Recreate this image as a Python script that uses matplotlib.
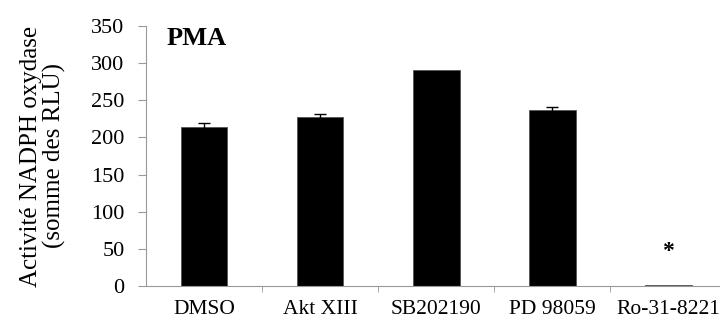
import matplotlib
matplotlib.use('Agg')
import matplotlib.pyplot as plt
import numpy as np

categories = ['DMSO', 'Akt XIII', 'SB202190', 'PD 98059', 'Ro-31-8221']
values = [214, 228, 291, 237, 1.5]
errors = [6, 3, 0, 4, 0]
marques = ['', '', '', '', '*']

plt.rcParams['font.family'] = ['Liberation Serif', 'DejaVu Serif']

fig = plt.figure(figsize=(7.2, 3.2), dpi=100)
ax = fig.add_axes([0.203, 0.106, 0.806, 0.813])

x = np.arange(len(categories))
ax.bar(x, values, width=0.4, color='black', edgecolor='#555555', linewidth=0.6)

# barres d'erreur seulement où il y en a
avec_err = np.array(errors) > 0
ax.errorbar(x[avec_err], np.array(values)[avec_err], yerr=np.array(errors)[avec_err],
            fmt='none', ecolor='black', elinewidth=1, capsize=4, capthick=1)

for xi, v, m in zip(x, values, marques):
    if m:
        ax.text(xi, v + 45, m, ha='center', va='center', fontsize=17, fontweight='bold')

ax.set_xlim(-0.5, 4.5)
ax.set_ylim(0, 350)
ax.set_yticks(range(0, 351, 50))
ax.set_xticks(x)
ax.set_xticklabels(categories)
ax.set_xticks(x[:-1] + 0.5, minor=True)
ax.tick_params(axis='x', which='major', length=0, pad=10, labelsize=15.5)
ax.tick_params(axis='x', which='minor', length=4.5, color='#999999')
ax.tick_params(axis='y', length=5.5, color='#999999', labelsize=16, pad=10)

for s in ['top', 'right']:
    ax.spines[s].set_visible(False)
for s in ['left', 'bottom']:
    ax.spines[s].set_color('#999999')

ax.set_ylabel('Activité NADPH oxydase\n(somme des RLU)', fontsize=18, labelpad=18, linespacing=1.05)
ax.text(0.035, 0.995, 'PMA', transform=ax.transAxes, fontsize=19, fontweight='bold', va='top')

fig.savefig('out.png', dpi=100)
